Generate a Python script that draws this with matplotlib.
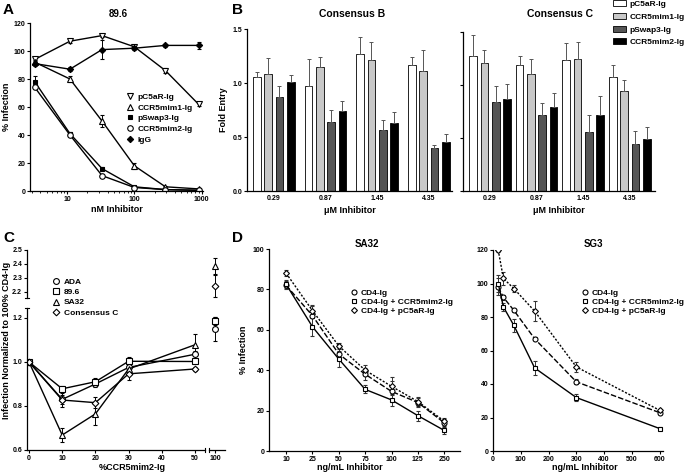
import numpy as np
import matplotlib
matplotlib.use("Agg")
import matplotlib.pyplot as plt
from matplotlib.lines import Line2D
from matplotlib.patches import Patch

plt.rcParams['font.family'] = ['Liberation Sans', 'DejaVu Sans']
plt.rcParams['font.weight'] = 'bold'
plt.rcParams['axes.linewidth'] = 0.9
plt.rcParams['xtick.major.width'] = 0.8
plt.rcParams['ytick.major.width'] = 0.8
plt.rcParams['xtick.major.size'] = 2.2
plt.rcParams['ytick.major.size'] = 2.5
plt.rcParams['xtick.labelsize'] = 5
plt.rcParams['ytick.labelsize'] = 5
plt.rcParams['xtick.major.pad'] = 1.2
plt.rcParams['ytick.major.pad'] = 1

# ---- panel A data (89.6) ----
a_conc = [3.3, 11, 33, 100, 290, 900]
a_pc5ar = [94, 107, 111, 103, 86, 62]
a_pc5ar_err = [1.5, 1, 1, 1.5, 2, 1]
a_mim1 = [92, 80, 50, 18, 3, 1.5]
a_mim1_err = [1.5, 2, 4, 2, 0.5, 0.5]
a_swap3 = [78, 41, 16, 3, 1, 0.5]
a_swap3_err = [4, 1.5, 1, 0.5, 0.3, 0.3]
a_mim2 = [74, 40, 11, 2.5, 1, 0.5]
a_mim2_err = [1, 1, 1, 0.5, 0.3, 0.3]
a_igg = [91, 87, 101, 102, 104, 104]
a_igg_err = [2, 1.5, 7, 1, 1, 2.5]

# ---- panel B data ----
b_conc = ['0.29', '0.87', '1.45', '4.35']
b_names = ['pC5aR-Ig', 'CCR5mim1-Ig', 'pSwap3-Ig', 'CCR5mim2-Ig']
consB = [[1.06, 0.97, 1.27, 1.165],
         [1.085, 1.145, 1.215, 1.11],
         [0.875, 0.635, 0.565, 0.395],
         [1.005, 0.745, 0.63, 0.45]]
consB_err = [[0.045, 0.25, 0.16, 0.08],
             [0.15, 0.10, 0.165, 0.2],
             [0.095, 0.115, 0.09, 0.03],
             [0.065, 0.09, 0.1, 0.075]]
consC = [[1.27, 1.19, 1.24, 1.075],
         [1.205, 1.10, 1.25, 0.945],
         [0.835, 0.72, 0.555, 0.445],
         [0.87, 0.79, 0.72, 0.49]]
consC_err = [[0.2, 0.08, 0.16, 0.115],
             [0.125, 0.145, 0.16, 0.105],
             [0.155, 0.11, 0.165, 0.12],
             [0.135, 0.135, 0.18, 0.115]]

# ---- panel C data ----
c_pct = [0, 10, 20, 30, 50]
c_ada = [1.0, 0.83, 0.90, 0.975, 1.035]
c_ada_err = [0, 0.02, 0.015, 0.015, 0.015]
c_896 = [1.0, 0.878, 0.91, 1.003, 1.002]
c_896_err = [0, 0.012, 0.015, 0.02, 0.01]
c_sa32 = [1.0, 0.668, 0.764, 0.968, 1.078]
c_sa32_err = [0, 0.03, 0.05, 0.02, 0.05]
c_consc = [1.0, 0.827, 0.815, 0.946, 0.968]
c_consc_err = [0, 0.03, 0.025, 0.03, 0.01]
c_100 = {'ADA': (1.15, 0.055), '89.6': (1.186, 0.02),
         'SA32': (2.383, 0.06), 'Consensus C': (2.244, 0.08)}

# ---- panel D data ----
sa_labels = ['10', '25', '50', '75', '100', '125', '250']
sa_cd4 = [82, 67, 48, 38, 29.5, 24, 14]
sa_cd4_err = [2, 5, 3, 3, 5, 2, 2]
sa_mim2 = [82.5, 61.5, 45.5, 30.5, 25.3, 17.5, 10.2]
sa_mim2_err = [2, 4.5, 4, 2, 3, 2.5, 2]
sa_c5ar = [88, 69.5, 52, 40, 32, 24.5, 14.8]
sa_c5ar_err = [1.5, 3, 1.5, 2.5, 4.5, 2, 1.5]

sg_conc = [18.75, 37.5, 75, 150, 300, 600]
sg_cd4 = [98, 91.7, 84, 67, 41.3, 22.9]
sg_cd4_err = [5, 1.5, 1, 1, 1.5, 1]
sg_mim2 = [100, 86, 75, 49.6, 31.9, 13.4]
sg_mim2_err = [5, 2.5, 4, 4, 2, 1]
sg_c5ar = [120, 103, 97, 83.5, 50.2, 24.3]
sg_c5ar_err = [1, 4, 2, 6, 3, 1]

W, H = 691, 475
fig = plt.figure(figsize=(W / 100, H / 100), dpi=100)


def rect(l, t, r, b):
    return [l / W, 1 - b / H, (r - l) / W, (b - t) / H]


def style(ax):
    ax.spines['top'].set_visible(False)
    ax.spines['right'].set_visible(False)
    ax.tick_params(direction='out')


def ftext(x, y, s, size, **kw):
    fig.text(x / W, 1 - y / H, s, fontsize=size, fontweight='bold',
             ha=kw.pop('ha', 'center'), va=kw.pop('va', 'center'), **kw)


def fig_legend(ax, handles, labels, x, y, spacing, size=5.5, hl=1.0):
    ax.legend(handles, labels, loc='upper left', bbox_to_anchor=(x / W, 1 - y / H),
              bbox_transform=fig.transFigure, frameon=False,
              borderaxespad=0, borderpad=0, handlelength=hl, handletextpad=0.4,
              labelspacing=spacing, prop={'weight': 'bold', 'size': size})


mk = dict(markersize=4, markeredgewidth=0.8, markeredgecolor='black', color='black', linewidth=1.0)

# ================= A =================
axA = fig.add_axes(rect(30, 23, 203, 191))
style(axA)
axA.set_xscale('log')
series_A = [(a_pc5ar, a_pc5ar_err, 'v', 'white', 'pC5aR-Ig'),
            (a_mim1, a_mim1_err, '^', 'white', 'CCR5mim1-Ig'),
            (a_swap3, a_swap3_err, 's', 'black', 'pSwap3-Ig'),
            (a_mim2, a_mim2_err, 'o', 'white', 'CCR5mim2-Ig'),
            (a_igg, a_igg_err, 'D', 'black', 'IgG')]
handles = []
for vals, err, m, fc, lab in series_A:
    ms = 3.2 if m in ('D', 's') else 4
    axA.errorbar(a_conc, vals, yerr=err, fmt='-' + m, markerfacecolor=fc,
                 ecolor='black', elinewidth=0.7, capsize=1.5, capthick=0.7,
                 **{**mk, 'markersize': ms})
    handles.append(Line2D([], [], marker=m, linestyle='none', markerfacecolor=fc,
                          markeredgecolor='black', markersize=ms, markeredgewidth=0.8))
axA.set_xlim(2.8, 1050)
axA.set_ylim(0, 120)
axA.set_yticks([0, 20, 40, 60, 80, 100, 120])
axA.set_xticks([10, 100, 1000])
axA.set_xticklabels(['10', '100', '1000'])
axA.tick_params(which='minor', length=1.5, width=0.6)
axA.set_xlabel('nM Inhibitor', fontsize=6.5, fontweight='bold', labelpad=2)
axA.set_ylabel('% Infection', fontsize=6.5, fontweight='bold', labelpad=2)
fig_legend(axA, handles, [s[4] for s in series_A], 126, 93, 0.35, size=6)
ftext(118, 14, '89.6', 7)
ftext(3, 10, 'A', 11, ha='left')

# ================= B =================
bar_colors = ['white', '#c8c8c8', '#555555', 'black']


def bars(ax, data, err, pitch, width, xlim):
    x = np.arange(len(b_conc))
    for i in range(4):
        pos = x + (i - 1.5) * pitch
        ax.bar(pos, data[i], width, color=bar_colors[i], edgecolor='black', linewidth=0.6)
        ax.errorbar(pos, data[i], yerr=[np.zeros(4), err[i]], fmt='none',
                    ecolor='#555555', elinewidth=0.7, capsize=1.2, capthick=0.7)
    ax.set_xticks(x)
    ax.set_xticklabels(b_conc)
    ax.set_xlim(*xlim)
    ax.set_ylim(0, 1.5)
    ax.set_yticks([0, 0.5, 1.0, 1.5])
    ax.tick_params(axis='x', length=0, pad=3)
    style(ax)


axB = fig.add_axes(rect(247, 29, 452, 191))
bars(axB, consB, consB_err, 0.218, 0.15, (-0.52, 3.45))
axB.set_yticklabels(['0.0', '0.5', '1.0', '1.5'])
axB.set_ylabel('Fold Entry', fontsize=6.5, fontweight='bold', labelpad=3)
axB.set_xlabel('\u03bcM Inhibitor', fontsize=6.5, fontweight='bold', labelpad=3)
ftext(352, 14, 'Consensus B', 7.5)
ftext(232, 10, 'B', 11, ha='left')

axC2 = fig.add_axes(rect(463, 32, 655, 191))
bars(axC2, consC, consC_err, 0.243, 0.165, (-0.58, 3.54))
axC2.set_yticklabels([])
axC2.set_xlabel('\u03bcM Inhibitor', fontsize=6.5, fontweight='bold', labelpad=3)
ftext(560, 14, 'Consensus C', 7.5)
bh = [Patch(facecolor=c, edgecolor='black', linewidth=0.6) for c in bar_colors]
fig_legend(axC2, bh, b_names, 613, 0, 0.6, size=6, hl=1.6)

# ================= C =================
axCl = fig.add_axes(rect(27, 308, 205, 450))
axCr = fig.add_axes(rect(209, 308, 225, 450))
axCu = fig.add_axes(rect(27, 250, 205, 298))
axCur = fig.add_axes(rect(209, 250, 225, 298))
series_C = [(c_ada, c_ada_err, 'o', 'ADA'),
            (c_896, c_896_err, 's', '89.6'),
            (c_sa32, c_sa32_err, '^', 'SA32'),
            (c_consc, c_consc_err, 'D', 'Consensus C')]
handles = []
for vals, err, m, lab in series_C:
    ms = 3.4 if m == 'D' else 4.2
    axCl.errorbar(c_pct, vals, yerr=err, fmt='-' + m, markerfacecolor='white',
                  ecolor='black', elinewidth=0.7, capsize=1.5, capthick=0.7,
                  **{**mk, 'markersize': ms})
    v, e = c_100[lab]
    target = axCur if v > 2 else axCr
    target.errorbar([100], [v], yerr=[e], fmt=m, markerfacecolor='white',
                    ecolor='black', elinewidth=0.7, capsize=1.5, capthick=0.7,
                    **{**mk, 'markersize': ms})
    handles.append(Line2D([], [], marker=m, linestyle='none', markerfacecolor='white',
                          markeredgecolor='black', markersize=ms, markeredgewidth=0.8))

for ax in (axCl, axCr, axCu, axCur):
    style(ax)
axCl.set_xlim(-0.6, 53)
axCl.set_ylim(0.6, 1.245)
axCl.set_yticks([0.6, 0.8, 1.0, 1.2])
axCl.set_xticks([0, 10, 20, 30, 40, 50])
axCr.set_xlim(96.25, 106.25)
axCr.set_ylim(0.6, 1.245)
axCr.set_xticks([100])
axCr.spines['left'].set_visible(False)
axCr.set_yticks([])
axCu.set_ylim(2.154, 2.5)
axCu.set_yticks([2.2, 2.3, 2.4, 2.5])
axCu.set_xlim(-0.6, 53)
axCu.spines['bottom'].set_visible(False)
axCu.set_xticks([])
axCur.set_xlim(96.25, 106.25)
axCur.set_ylim(2.154, 2.5)
axCur.axis('off')
for ax in (axCu, axCur):
    ax.patch.set_alpha(0)
# break marks
kw = dict(color='black', linewidth=0.8, clip_on=False)
axCl.plot([1, 1], [-0.012, 0.012], transform=axCl.transAxes, **kw)
axCr.plot([0, 0], [-0.012, 0.012], transform=axCr.transAxes, **kw)
axCl.plot([-0.012, 0.012], [1, 1], transform=axCl.transAxes, **kw)
axCu.plot([-0.012, 0.012], [0, 0], transform=axCu.transAxes, **kw)
ftext(132, 468, '%CCR5mim2-Ig', 6.5)
ftext(7, 340, 'Infection Normalized to 100% CD4-Ig', 6.5, rotation=90)
fig_legend(axCl, handles, [s[3] for s in series_C], 52, 278, 0.3, size=6)
ftext(3, 238, 'C', 11, ha='left')

# ================= D =================
d_handles = [Line2D([], [], marker='o', linestyle='none', markerfacecolor='white',
                    markeredgecolor='black', markersize=3.6, markeredgewidth=0.8),
             Line2D([], [], marker='s', linestyle='none', markerfacecolor='white',
                    markeredgecolor='black', markersize=3.4, markeredgewidth=0.8),
             Line2D([], [], marker='D', linestyle='none', markerfacecolor='white',
                    markeredgecolor='black', markersize=3.0, markeredgewidth=0.8)]
d_labels = ['CD4-Ig', 'CD4-Ig + CCR5mim2-Ig', 'CD4-Ig + pC5aR-Ig']


def dplot(ax, x, series):
    for vals, err, m, ls, ms in series:
        line = ax.errorbar(x, vals, yerr=err, fmt=m, linestyle='-', markerfacecolor='white',
                           ecolor='#333333', elinewidth=0.7, capsize=1.5, capthick=0.7,
                           **{**mk, 'markersize': ms})
        if ls:
            line[0].set_dashes(ls)
    style(ax)


axD1 = fig.add_axes(rect(269, 249, 460, 451))
xs = np.arange(len(sa_labels))
dplot(axD1, xs, [(sa_cd4, sa_cd4_err, 'o', (4, 1.5), 3.6),
                 (sa_c5ar, sa_c5ar_err, 'D', (1.5, 1.2), 3.0),
                 (sa_mim2, sa_mim2_err, 's', None, 3.4)])
axD1.set_xticks(xs)
axD1.set_xticklabels(sa_labels)
axD1.set_xlim(-0.65, 6.6)
axD1.set_ylim(0, 100)
axD1.set_yticks([0, 20, 40, 60, 80, 100])
axD1.set_ylabel('% Infection', fontsize=6.5, fontweight='bold', labelpad=3)
ftext(350, 468, 'ng/mL Inhibitor', 6.5)
ftext(367, 244, 'SA32', 7)
fig_legend(axD1, d_handles, d_labels, 351, 289, 0.15, size=6, hl=0.8)
ftext(232, 238, 'D', 11, ha='left')

axD2 = fig.add_axes(rect(493, 250, 663, 451))
dplot(axD2, sg_conc, [(sg_cd4, sg_cd4_err, 'o', (4, 1.5), 3.6),
                      (sg_c5ar, sg_c5ar_err, 'D', (1.5, 1.2), 3.0),
                      (sg_mim2, sg_mim2_err, 's', None, 3.4)])
axD2.set_xlim(0, 612)
axD2.set_ylim(0, 120)
axD2.set_yticks([0, 20, 40, 60, 80, 100, 120])
axD2.set_xticks([0, 100, 200, 300, 400, 500, 600])
ftext(585, 468, 'ng/mL Inhibitor', 6.5)
ftext(593, 244, 'SG3', 7)
fig_legend(axD2, d_handles, d_labels, 582, 289, 0.15, size=6, hl=0.8)

fig.savefig('out.png', dpi=100)
